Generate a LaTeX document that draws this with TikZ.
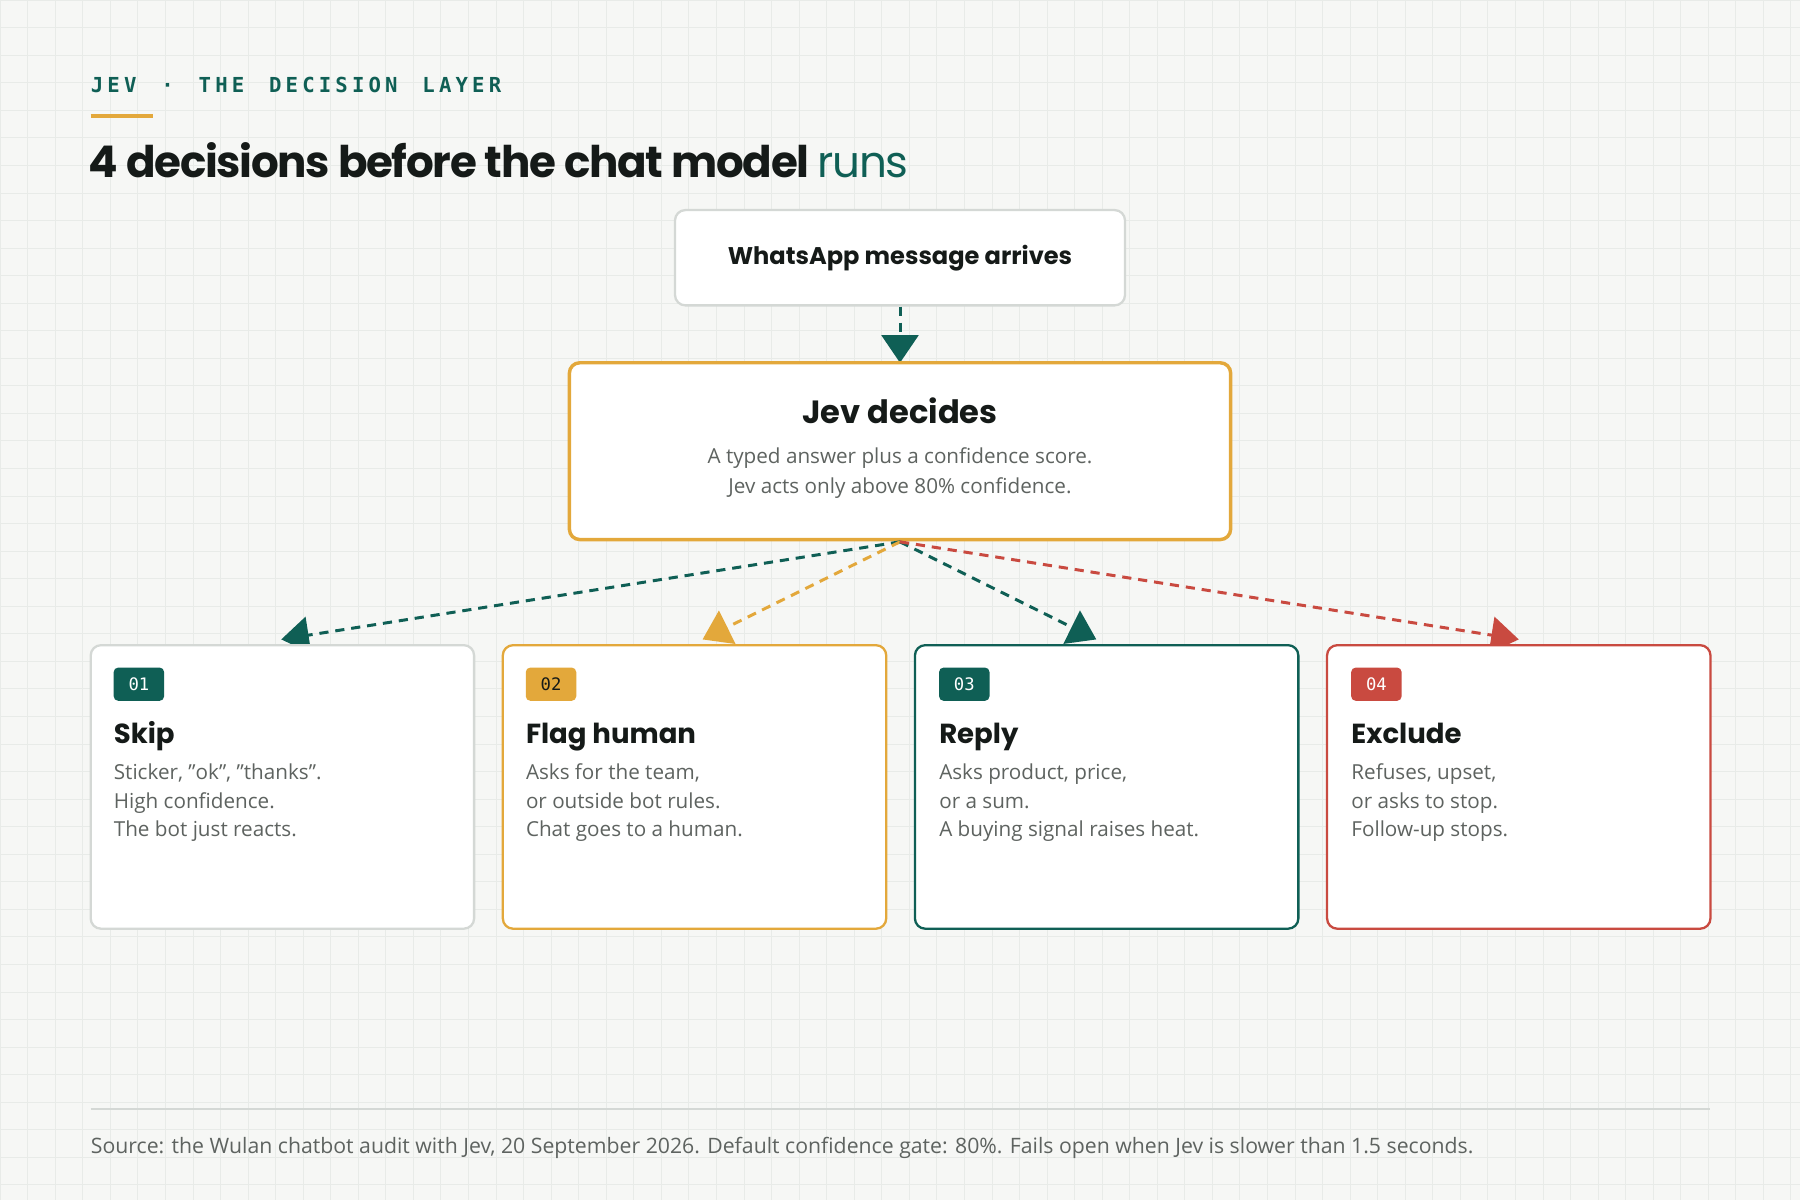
\documentclass[tikz,border=0pt]{standalone}
\usepackage{fontspec}
\setmainfont{Open Sans}[Ligatures=ResetAll]
\newfontfamily\headfont{Poppins}
\newfontfamily\monof{DejaVu Sans Mono}
\usetikzlibrary{arrows.meta}
\definecolor{teal}{HTML}{0F5F55}
\definecolor{org}{HTML}{E3A83B}
\definecolor{red}{HTML}{C94A40}
\definecolor{ink}{HTML}{151A18}
\definecolor{gry}{HTML}{5E6360}
\definecolor{bg}{HTML}{F6F7F5}
\definecolor{grid}{HTML}{E8EBE8}
\definecolor{bord}{HTML}{D4D8D5}
\newcommand{\dq}{\symbol{34}}
\newcommand{\ls}{\,\kern0.6pt}
\begin{document}
\begin{tikzpicture}[x=1pt,y=-1pt,
  card/.style={draw=#1,line width=2pt,rounded corners=9pt,fill=white},
  badge/.style={fill=#1,rounded corners=4pt,minimum width=44pt,minimum height=29pt,inner sep=0pt,text=white,font=\monof\fontsize{15}{15}\selectfont},
  ctitle/.style={anchor=base west,inner sep=0pt,text=ink,font=\headfont\bfseries\fontsize{24}{24}\selectfont},
  cbody/.style={anchor=north west,align=left,text=gry,font=\fontsize{18}{25}\selectfont,inner sep=0pt},
  arr/.style={draw=#1,line width=2.6pt,dash pattern=on 8pt off 6pt,-{Triangle[width=32pt,length=24pt]}}]
\fill[bg] (0,0) rectangle (1568,1045);
\useasboundingbox (0,0) rectangle (1568,1045);
\foreach \i in {0,24,...,1568} \draw[grid,line width=0.6pt] (\i,0) -- (\i,1045);
\foreach \i in {0,24,...,1045} \draw[grid,line width=0.6pt] (0,\i) -- (1568,\i);
\node[anchor=base west,inner sep=0pt,text=teal,font=\monof\bfseries\fontsize{18}{18}\selectfont] (hdr) at (79,81) {J\ls E\ls V\ \ ·\ \ T\ls H\ls E\ \ D\ls E\ls C\ls I\ls S\ls I\ls O\ls N\ \ L\ls A\ls Y\ls E\ls R};
\draw[org,line width=3pt] (79,101) -- (133,101);
\node[anchor=base west,inner sep=0pt,text=ink,font=\headfont\bfseries\fontsize{38}{38}\selectfont] (ttl) at (77,155) {\addfontfeature{LetterSpace=-3}4 decisions before the chat model\ \mdseries\textcolor{teal}{runs}};
% top box
\draw[card=bord] (588,183) rectangle (980,266);
\node[text=ink,font=\headfont\bfseries\fontsize{21}{21}\selectfont] (wa) at (784,225) {WhatsApp message arrives};
\coordinate (waB) at (784,267);
\coordinate (jvT) at (784,316);
\draw[arr=teal] (waB) -- (jvT);
% jev box
\draw[card=org,line width=3pt] (496,316) rectangle (1072,470);
\node[text=ink,font=\headfont\bfseries\fontsize{28}{28}\selectfont] (jv) at (784,358) {Jev decides};
\node[align=center,text=gry,font=\fontsize{18}{26}\selectfont] (jvt) at (784,412) {A typed answer plus a confidence score.\\Jev acts only above 80\% confidence.};
\coordinate (src) at (784,472);
\coordinate (t1) at (245,557);
\coordinate (t2) at (612,557);
\coordinate (t3) at (955,557);
\coordinate (t4) at (1323,557);
\draw[arr=teal] (src) -- (t1);
\draw[arr=org] (src) -- (t2);
\draw[arr=teal] (src) -- (t3);
\draw[arr=red] (src) -- (t4);
% cards
\draw[card=bord] (79,562) rectangle ++(334,247);
\draw[card=org] (438,562) rectangle ++(334,247);
\draw[card=teal] (797,562) rectangle ++(334,247);
\draw[card=red] (1156,562) rectangle ++(334,247);
\node[badge=teal] (b1) at (121,596) {01};
\node[badge=org,text=ink] (b2) at (480,596) {02};
\node[badge=teal] (b3) at (840,596) {03};
\node[badge=red] (b4) at (1199,596) {04};
\node[ctitle] (c1) at (99,648) {Skip};
\node[ctitle] (c2) at (458,648) {Flag human};
\node[ctitle] (c3) at (818,648) {Reply};
\node[ctitle] (c4) at (1177,648) {Exclude};
\node[cbody] (d1) at (99,665) {Sticker, \dq ok\dq, \dq thanks\dq.\\High confidence.\\The bot just reacts.};
\node[cbody] (d2) at (458,665) {Asks for the team,\\or outside bot rules.\\Chat goes to a human.};
\node[cbody] (d3) at (818,665) {Asks product, price,\\or a sum.\\A buying signal raises heat.};
\node[cbody] (d4) at (1177,665) {Refuses, upset,\\or asks to stop.\\Follow-up stops.};
\draw[bord,line width=1.2pt] (79,966) -- (1490,966);
\node[anchor=base west,inner sep=0pt,text=gry,font=\fontsize{18.5}{18.5}\selectfont] (foot) at (79,1005) {Source: the Wulan chatbot audit with Jev, 20 September 2026. Default confidence gate: 80\%. Fails open when Jev is slower than 1.5 seconds.};
\end{tikzpicture}
\end{document}
